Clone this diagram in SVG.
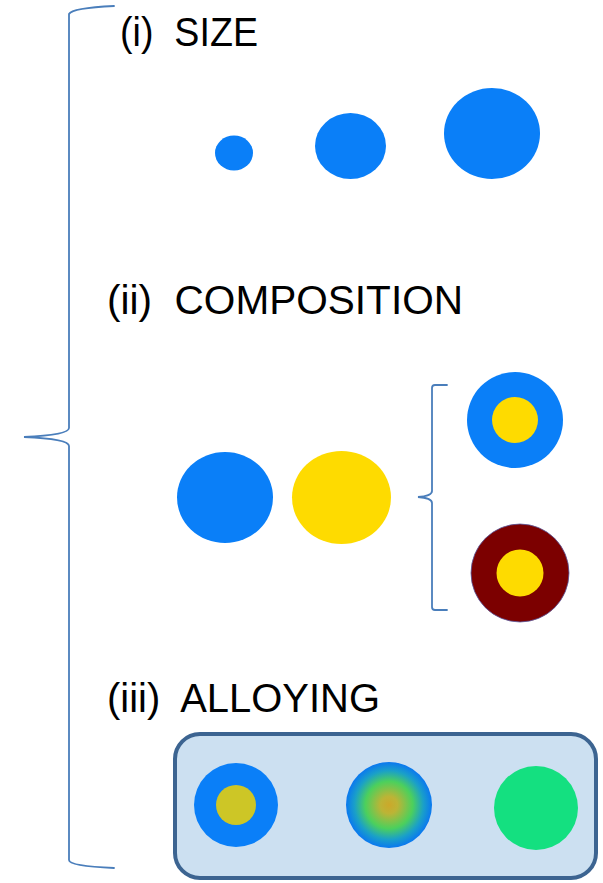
<svg xmlns="http://www.w3.org/2000/svg" width="603" height="883" viewBox="0 0 603 883">
  <style>
    .label { font-family: "Liberation Sans", Arial, sans-serif; font-size: 40px; fill: #000; white-space: pre; }
    .brace { fill: none; stroke: #4a7ebb; stroke-width: 1.8; stroke-linecap: round; }
    .blue { fill: #0a7ff8; }
    .gold { fill: #fedb00; }
  </style>
  <defs>
    <radialGradient id="alloyGrad" cx="0.5" cy="0.5" r="0.5">
      <stop offset="0" stop-color="#cca82a"/>
      <stop offset="0.2" stop-color="#bcb436"/>
      <stop offset="0.55" stop-color="#4cd05c"/>
      <stop offset="0.8" stop-color="#1aa0c8"/>
      <stop offset="1" stop-color="#0a78f0"/>
    </radialGradient>
  </defs>

  <!-- connectors: braces -->
  <g id="connectors">
    <path class="brace" d="M114,6 Q72,8 69,14 L69,428 Q69,435 24,437 Q69,439 69,446 L69,860 Q69,866 114,868"/>
    <path class="brace" d="M447,385 L435,385 Q432,385 432,388 L432,491 Q432,496 418,497 Q432,498 432,503 L432,607 Q432,610 435,610 L447,610"/>
  </g>

  <g id="size">
    <text class="label" xml:space="preserve" x="120" y="46" textLength="138" lengthAdjust="spacingAndGlyphs">(i)  SIZE</text>
    <ellipse class="blue" cx="234" cy="153" rx="19" ry="17.5"/>
    <ellipse class="blue" cx="350.5" cy="146" rx="35.5" ry="33"/>
    <ellipse class="blue" cx="492" cy="133.5" rx="48" ry="45.5"/>
  </g>

  <g id="composition">
    <text class="label" xml:space="preserve" x="107" y="314" textLength="356" lengthAdjust="spacingAndGlyphs">(ii)  COMPOSITION</text>
    <ellipse class="blue" cx="225" cy="497.5" rx="48" ry="45.5"/>
    <ellipse class="gold" cx="341.5" cy="497.5" rx="49.5" ry="46.5"/>
    <g id="core-shell-blue">
      <circle class="blue" cx="515" cy="420" r="48"/>
      <circle class="gold" cx="515" cy="420" r="23"/>
    </g>
    <g id="core-shell-maroon">
      <circle cx="520" cy="573" r="49" fill="#7c0000" stroke="#5a5aa0" stroke-width="0.8"/>
      <circle class="gold" cx="520" cy="573" r="23.5"/>
    </g>
  </g>

  <g id="alloying">
    <text class="label" xml:space="preserve" x="107" y="712" textLength="273" lengthAdjust="spacingAndGlyphs">(iii)  ALLOYING</text>
    <rect x="175" y="734" width="421" height="144" rx="25" ry="25" fill="#cce0f1" stroke="#3c6491" stroke-width="4"/>
    <g id="alloy-core-shell">
      <circle class="blue" cx="236" cy="805" r="42"/>
      <circle cx="236" cy="805" r="20" fill="#cdc626"/>
    </g>
    <circle id="alloy-gradient" cx="389" cy="805" r="43" fill="url(#alloyGrad)"/>
    <circle id="alloy-uniform" cx="536" cy="808" r="42" fill="#14e080"/>
  </g>
</svg>
